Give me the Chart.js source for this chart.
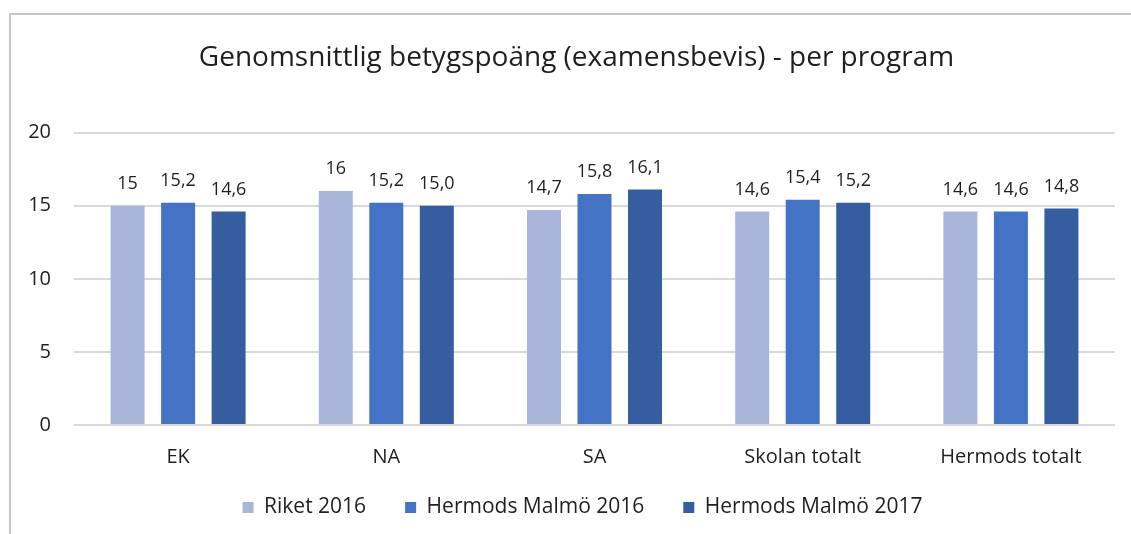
<!DOCTYPE html>
<html><head><meta charset="utf-8">
<script src="https://cdn.jsdelivr.net/npm/chart.js@4/dist/chart.umd.min.js"></script>
<style>html,body{margin:0;padding:0;background:#fff;overflow:hidden}#wrap{width:1131px;height:534px;position:relative}</style>
</head><body><div id="wrap"><canvas id="c" width="1131" height="534"></canvas></div>
<script>
const categories = ['EK', 'NA', 'SA', 'Skolan totalt', 'Hermods totalt'];
const seriesNames = ['Riket 2016', 'Hermods Malmö 2016', 'Hermods Malmö 2017'];
const riket2016 = [15, 16, 14.7, 14.6, 14.6];
const malmo2016 = [15.2, 15.2, 15.8, 15.4, 14.6];
const malmo2017 = [14.6, 15.0, 16.1, 15.2, 14.8];
const riket2016Labels = ['15', '16', '14,7', '14,6', '14,6'];
const malmo2016Labels = ['15,2', '15,2', '15,8', '15,4', '14,6'];
const malmo2017Labels = ['14,6', '15,0', '16,1', '15,2', '14,8'];
const yTicks = [0, 5, 10, 15, 20];
const chartTitle = 'Genomsnittlig betygspoäng (examensbevis) - per program';

const FONT = '"Open Sans", sans-serif';
const TEXT = '#1f1f1f';
const colors = ['#A9B5DA', '#4472C4', '#355D9F'];
const valueLabels = [riket2016Labels, malmo2016Labels, malmo2017Labels];

const frame = {
  id: 'frame',
  beforeDraw(chart) {
    const ctx = chart.ctx;
    ctx.save();
    ctx.fillStyle = '#c6c6c6';
    ctx.fillRect(9, 13, chart.width - 9, 2);
    ctx.fillRect(9, 13, 2, chart.height - 13);
    ctx.restore();
  }
};

const boxNudge = {
  id: 'boxNudge',
  afterLayout(chart) {
    const lg = chart.legend;
    if (lg) { lg.left += 11; lg.right += 11; lg.top -= 13; lg.bottom -= 13; }
    const tt = chart.titleBlock;
    if (tt) { tt.left += 5; tt.right += 5; }
  }
};

const barLabels = {
  id: 'barLabels',
  afterDatasetsDraw(chart) {
    const ctx = chart.ctx;
    ctx.save();
    ctx.font = '18px ' + FONT;
    ctx.fillStyle = TEXT;
    ctx.textAlign = 'center';
    ctx.textBaseline = 'alphabetic';
    chart.data.datasets.forEach((ds, di) => {
      chart.getDatasetMeta(di).data.forEach((el, i) => {
        ctx.fillText(valueLabels[di][i], el.x, el.y - 17);
      });
    });
    ctx.restore();
  }
};

new Chart(document.getElementById('c'), {
  type: 'bar',
  data: {
    labels: categories,
    datasets: [
      { label: seriesNames[0], data: riket2016, backgroundColor: colors[0] },
      { label: seriesNames[1], data: malmo2016, backgroundColor: colors[1] },
      { label: seriesNames[2], data: malmo2017, backgroundColor: colors[2] }
    ]
  },
  options: {
    responsive: false,
    devicePixelRatio: 1,
    animation: false,
    categoryPercentage: 0.728,
    barPercentage: 0.673,
    layout: { padding: { left: 28, right: 16, top: 0, bottom: 0 } },
    plugins: {
      title: {
        display: true, text: chartTitle, color: TEXT,
        font: { family: FONT, size: 28, weight: 'normal' },
        padding: { top: 41, bottom: 58 }
      },
      legend: {
        position: 'bottom', maxHeight: 63,
        labels: { boxWidth: 11, boxHeight: 11, padding: 39, color: TEXT, font: { family: FONT, size: 21 } }
      },
      tooltip: { enabled: false }
    },
    scales: {
      x: {
        grid: { display: false, drawTicks: false }, border: { display: false },
        ticks: { color: TEXT, font: { family: FONT, size: 20, lineHeight: 1.0 }, padding: 22, maxRotation: 0 },
        afterFit(s) { s.height = 46; }
      },
      y: {
        min: yTicks[0], max: yTicks[yTicks.length - 1],
        ticks: { stepSize: yTicks[1] - yTicks[0], color: TEXT, font: { family: FONT, size: 20 }, padding: 23 },
        grid: { color: '#d9d9d9', lineWidth: 2, drawTicks: false },
        border: { display: false },
        afterFit(s) { s.width = 46; }
      }
    }
  },
  plugins: [frame, boxNudge, barLabels]
});
</script>
</body></html>
